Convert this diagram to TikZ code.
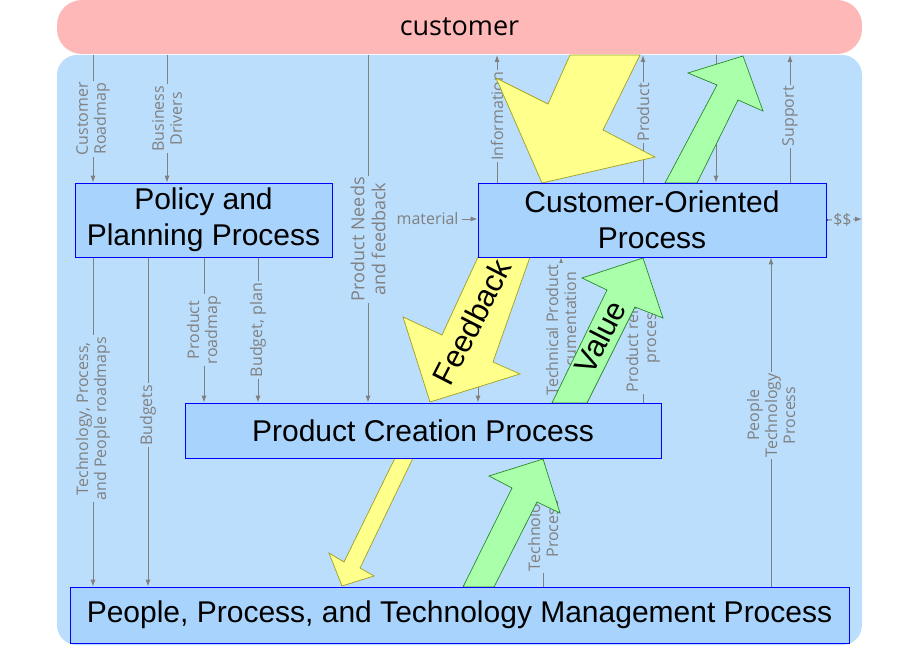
\documentclass[tikz,border=0pt]{standalone}
\usepackage{fontspec}
\setmainfont{Liberation Sans}
\newfontfamily\labfont{Open Sans}
\begin{document}
\begin{tikzpicture}[x=1pt,y=-1pt,
  box/.style={draw=blue,fill=boxblue,line width=0.8pt,font=\fontsize{30}{36}\selectfont,align=center,inner sep=0pt},
  ga/.style={draw=gline,line width=0.9pt,-{Latex[length=7pt,width=5pt]}},
  lab/.style={text=gline,font=\labfont\fontsize{16}{18}\selectfont,fill=bgblue,inner sep=1.5pt,align=center,rotate=90},
  yel/.style={fill=yfill,draw=ydraw,line width=0.7pt},
  grn/.style={fill=gfill,draw=gdraw,line width=0.7pt},
  big/.style={font=\fontsize{31}{36}\selectfont}]
\usetikzlibrary{arrows.meta}
\definecolor{bgblue}{HTML}{BBDEFD}
\definecolor{boxblue}{HTML}{A8D3FC}
\definecolor{gline}{HTML}{808080}
\definecolor{pinkc}{HTML}{FFB8B8}
\definecolor{yfill}{HTML}{FFFF8C}
\definecolor{ydraw}{HTML}{A0A020}
\definecolor{gfill}{HTML}{AAFFAA}
\definecolor{gdraw}{HTML}{2A8A2A}
\useasboundingbox (0,0) rectangle (920,660);
\fill[white] (0,0) rectangle (920,660);
% background and customer
\fill[bgblue,rounded corners=20pt] (57,55) rectangle (862,645);
\node[fill=pinkc,rounded corners=25pt,minimum width=805pt,minimum height=54pt,inner sep=0pt,font=\labfont\fontsize{27}{30}\selectfont] (cust) at (459.5,27) {customer};
% boxes
\node[box,minimum width=257pt,minimum height=74pt] (pol) at (203.5,220) {Policy and\\Planning Process};
\node[box,minimum width=348pt,minimum height=74pt] (cop) at (652,220) {Customer-Oriented\\Process};
\node[box,minimum width=476pt,minimum height=55pt] (pcp) at (423,430.5) {Product Creation Process};
\node[box,minimum width=779pt,minimum height=56pt] (ppt) at (459.5,615) {People, Process, and Technology Management Process};
% grey connectors
\coordinate (c93) at (93,55); \coordinate (c167) at (167,55); \coordinate (c368) at (368,55);
\coordinate (c497) at (497,55); \coordinate (c643) at (643,55); \coordinate (c716) at (716,55); \coordinate (c790) at (790,55);
\coordinate (mat) at (462,219); \coordinate (dol) at (862,219);
\draw[ga] (c93) -- (pol.north -| c93) node[lab,pos=0.5]{Customer\\Roadmap};
\draw[ga] (c167) -- (pol.north -| c167) node[lab,pos=0.5]{Business\\Drivers};
\draw[ga] (pol.south -| c93) -- (ppt.north -| c93) node[lab,pos=0.49]{Technology, Process,\\and People roadmaps};
\draw[ga] (pol.south -| 148,0) -- (ppt.north -| 148,0) node[lab,pos=0.48]{Budgets};
\draw[ga] (pol.south -| 204,0) -- (pcp.north -| 204,0) node[lab,pos=0.5]{Product\\roadmap};
\draw[ga] (pol.south -| 258,0) -- (pcp.north -| 258,0) node[lab,pos=0.5]{Budget, plan};
\draw[ga] (c368) -- (pcp.north -| c368) node[lab,pos=0.53,font=\labfont\fontsize{18}{21}\selectfont]{Product Needs\\and feedback};
\draw[ga] (mat) node[left,text=gline,font=\labfont\fontsize{16}{18}\selectfont,inner sep=3pt]{material} -- (cop.west |- mat);
\draw[ga] (cop.north -| c497) -- (c497) node[lab,pos=0.52]{Information};
\draw[ga] (cop.north -| c643) -- (c643) node[lab,pos=0.55]{Product};
\draw[ga] (c716) -- (cop.north -| c716);
\draw[ga] (cop.north -| c790) -- (c790) node[lab,pos=0.52]{Support};
\draw[ga] (ppt.north -| 771,0) -- (cop.south -| 771,0) node[lab,pos=0.52]{People\\Technology\\Process};
\draw[ga] (cop.south -| 478,0) -- (pcp.north -| 478,0) node[lab,pos=0.5]{and\\feedback};
\draw[ga] (pcp.north -| 561,0) -- (cop.south -| 561,0) node[lab,pos=0.5]{Technical Product\\Documentation};
\draw[ga] (pcp.north -| 643,0) -- (cop.south -| 643,0) node[lab,pos=0.47]{Product release\\process};
\draw[ga] (ppt.north -| 543,0) -- (pcp.south -| 543,0) node[lab,pos=0.45]{Technology\\Process};
\fill (cop.east) circle (1.8pt);
\draw[ga] (cop.east) -- (dol) node[pos=0.45,fill=bgblue,text=gline,font=\labfont\fontsize{16}{18}\selectfont,inner sep=1pt]{\$\$};
% big arrows
\draw[yel] (570,55) -- (640,55) -- (603,130) -- (655,157) -- (542,183) -- (496,78) -- (548,104) -- cycle;
\draw[grn] (665,183) -- (697,183) -- (738,100) -- (763,111) -- (743,56) -- (688,73) -- (717,85) -- cycle;
\draw[yel] (478,257) -- (530,257) -- (493,362) -- (520,374) -- (430,402) -- (403,317) -- (442,335) -- cycle;
\node[big,rotate=63] (fb) at (472,322) {Feedback};
\draw[grn] (552,403) -- (587,403) -- (635,307) -- (663,318) -- (643,258) -- (582,278) -- (607,290) -- cycle;
\node[big,rotate=63] (val) at (600,337) {Value};
\draw[yel] (395,458) -- (413,458) -- (360,568) -- (374,576) -- (342,586) -- (329,553) -- (344,562) -- cycle;
\draw[grn] (463,587) -- (494,587) -- (537,502) -- (560,513) -- (543,459) -- (489,476) -- (512,488) -- cycle;
% redraw boxes on top
\node[box,minimum width=257pt,minimum height=74pt] at (pol) {Policy and\\Planning Process};
\node[box,minimum width=348pt,minimum height=74pt] at (cop) {Customer-Oriented\\Process};
\node[box,minimum width=476pt,minimum height=55pt] at (pcp) {Product Creation Process};
\node[box,minimum width=779pt,minimum height=56pt] at (ppt) {People, Process, and Technology Management Process};
\end{tikzpicture}
\end{document}
